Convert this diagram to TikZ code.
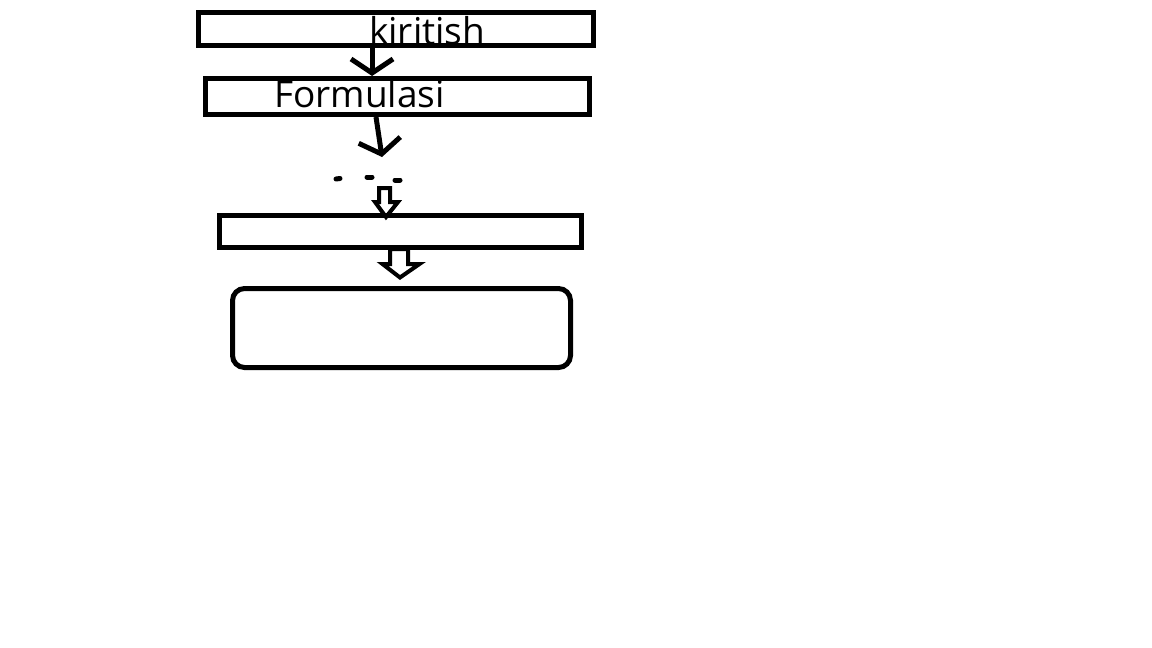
\documentclass[tikz,border=0pt]{standalone}
\usepackage{fontspec}
\setmainfont{Open Sans}
\usetikzlibrary{arrows.meta}
\begin{document}
\begin{tikzpicture}[x=1pt,y=-1pt,
  box/.style={draw=black,line width=5pt,inner sep=0pt},
  lbl/.style={anchor=base west,inner sep=0pt,text=black,font=\fontsize{37}{37}\selectfont},
  conn/.style={draw=black,line width=5pt,-{Straight Barb[length=14pt,width=42pt]}},
  blk/.style={draw=black,line width=4pt,line join=miter},
  dotst/.style={draw=black,line width=5pt,line cap=round}]
\useasboundingbox[fill=white] (0,0) rectangle (1152,648);
% boxes
\node[box,minimum width=395pt,minimum height=33.5pt] (b1) at (396,28.75) {};
\node[box,minimum width=384pt,minimum height=36pt] (b2) at (397.5,96.5) {};
\node[box,minimum width=362pt,minimum height=32pt] (b3) at (400.5,231.5) {};
\node[box,rounded corners=12pt,minimum width=338pt,minimum height=79pt] (b4) at (401.5,328) {};
% texts
\node[lbl] (t1) at (369,44) {kiritish};
\node[lbl] (t2) at (274,107.5) {Formulasi};
% connectors
\coordinate (x1) at (372,0);
\coordinate (x2) at (376,0);
\coordinate (e2) at (382,157);
\draw[conn] (b1.south -| x1) -- (b2.north -| x1);
\draw[conn] (b2.south -| x2) -- (e2);
% dots
\draw[dotst] (336,179) -- (340,178.5);
\draw[dotst] (367,177) -- (372,177);
\draw[dotst] (395,180) -- (400,180);
% block arrows
\draw[blk] (379,188) -- (390,188) -- (390,202) -- (398,202) -- (386,217) -- (375,202) -- (379,202) -- cycle;
\draw[blk] (390,249) -- (408,249) -- (408,264) -- (419.5,264) -- (400,277.5) -- (382.5,264) -- (390,264) -- cycle;
\end{tikzpicture}
\end{document}
